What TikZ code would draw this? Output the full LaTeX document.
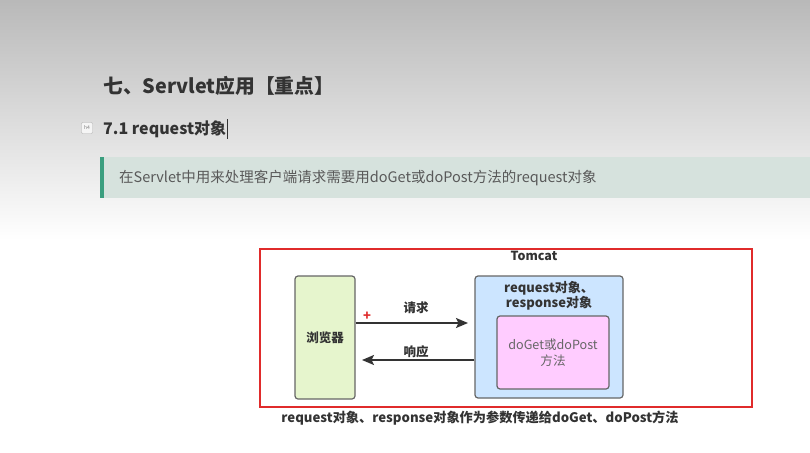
\documentclass[tikz,border=0pt]{standalone}
\usepackage{fontspec}
\setmainfont{Noto Sans CJK SC}
\usetikzlibrary{arrows.meta}
\definecolor{txt}{HTML}{333333}
\definecolor{qbar}{HTML}{3A9E7E}
\definecolor{qbg}{HTML}{D6E2DD}
\definecolor{frame}{HTML}{E02B2B}
\definecolor{boxline}{HTML}{666666}
\definecolor{green}{HTML}{E6F5CD}
\definecolor{blue}{HTML}{CCE5FF}
\definecolor{pink}{HTML}{FFCCFF}
\tikzset{
  box/.style={draw=boxline, line width=1.2pt, rounded corners=3pt},
  lbl/.style={inner sep=0pt, text=txt},
  conn/.style={draw=txt, line width=1.8pt, -{Stealth[length=12pt,width=10pt,inset=2.5pt]}},
}
\begin{document}
\begin{tikzpicture}[x=1pt,y=-1pt]
\useasboundingbox (0,0) rectangle (810,452);
% background
\shade[top color=gray!55, bottom color=white] (0,0) rectangle (810,240);
\fill[white] (0,240) rectangle (810,452);
% headings
\node[lbl, anchor=west, font=\fontsize{19.8}{22}\selectfont\bfseries] (title) at (103,86) {七、Servlet应用【重点】};
\node[draw=gray!60, rounded corners=1pt, fill=gray!8, minimum width=11pt, minimum height=11pt, inner sep=0pt, font=\fontsize{5}{6}\selectfont, text=gray] (icon) at (87,128) {h4};
\node[lbl, anchor=west, font=\fontsize{16}{19}\selectfont\bfseries] (sub) at (103,129) {7.1 request对象};
\draw[txt, line width=0.8pt] (sub.east) ++(1,-10) -- ++(0,20);
% blockquote
\fill[qbg] (104,157) rectangle (810,198);
\fill[qbar] (100,157) rectangle (104,198);
\node[lbl, anchor=west, text=gray!70!black, font=\fontsize{14.5}{17}\selectfont] (quote) at (119,178) {在Servlet中用来处理客户端请求需要用doGet或doPost方法的request对象};
% diagram
\node[draw=frame, line width=1.2pt, minimum width=492pt, minimum height=158pt, inner sep=0pt] (tomcat) at (506,328) {};
\node[lbl, font=\fontsize{12.5}{14}\selectfont\bfseries] (tomcatlbl) at (534,256) {Tomcat};
\node[box, fill=green, minimum width=60pt, minimum height=123pt, inner sep=0pt, font=\fontsize{12.5}{14}\selectfont\bfseries, text=txt] (browser) at (325,337.5) {浏览器};
\node[box, fill=blue, minimum width=148pt, minimum height=122pt, inner sep=0pt] (server) at (549,337) {};
\node[lbl, align=center, font=\fontsize{13}{15.5}\selectfont\bfseries] (objs) at (549,296) {request对象、\\response对象};
\node[box, fill=pink, minimum width=112pt, minimum height=73pt, inner sep=0pt, align=center, text=boxline, font=\fontsize{12.6}{16}\selectfont] (method) at (553,352.5) {doGet或doPost\\方法};
\coordinate (reqend) at (468,323);
\coordinate (respend) at (362,360);
\draw[conn] (browser.east |- reqend) -- (reqend);
\draw[conn] (server.west |- respend) -- (respend);
\node[lbl, font=\fontsize{12.5}{14}\selectfont\bfseries] (reqlbl) at (416,308) {请求};
\node[lbl, font=\fontsize{12.5}{14}\selectfont\bfseries] (resplbl) at (416,352) {响应};
\node[lbl, text=frame, font=\fontsize{13}{14}\selectfont\bfseries] (plus) at (367,316) {+};
\node[lbl, font=\fontsize{13.2}{15}\selectfont\bfseries] (caption) at (480,418) {request对象、response对象作为参数传递给doGet、doPost方法};
\end{tikzpicture}
\end{document}
